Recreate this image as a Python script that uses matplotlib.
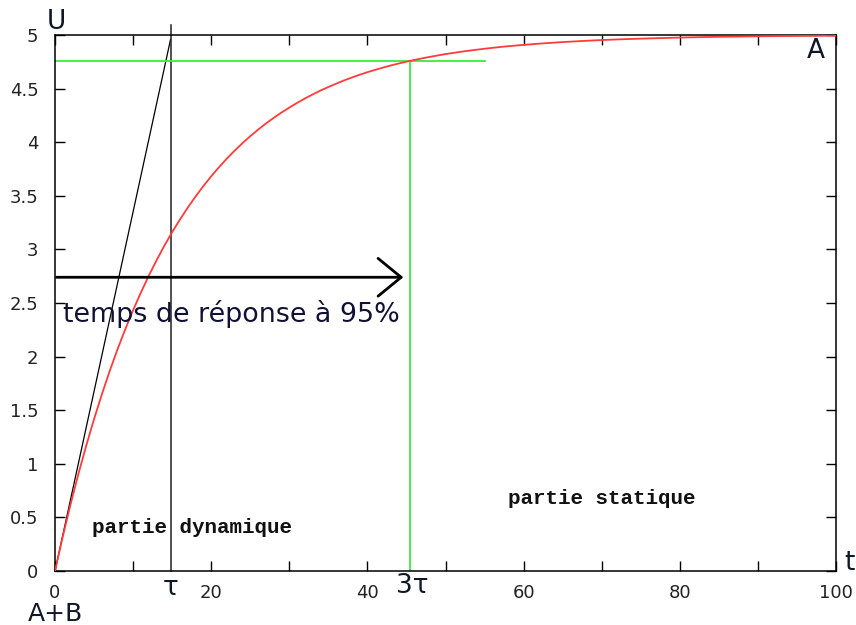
import matplotlib
matplotlib.use("Agg")
import matplotlib.pyplot as plt

# step response of a first-order system, sampled values of U(t)
t_values = [0, 1, 2, 3, 4, 5, 6, 7, 8, 9, 10, 11, 12, 13, 14, 15, 16, 17, 18,
            19, 20, 21, 22, 23, 24, 25, 26, 27, 28, 29, 30, 31, 32, 33, 34, 35,
            36, 37, 38, 39, 40, 41, 42, 43, 44, 45, 46, 47, 48, 49, 50, 52.5,
            55, 57.5, 60, 62.5, 65, 67.5, 70, 72.5, 75, 77.5, 80, 82.5, 85,
            87.5, 90, 92.5, 95, 97.5, 100]
u_values = [0.000, 0.322, 0.624, 0.906, 1.170, 1.417, 1.648, 1.865, 2.067,
            2.256, 2.433, 2.598, 2.753, 2.898, 3.034, 3.161, 3.279, 3.390,
            3.494, 3.591, 3.682, 3.767, 3.847, 3.921, 3.991, 4.056, 4.117,
            4.174, 4.227, 4.277, 4.323, 4.367, 4.408, 4.446, 4.482, 4.515,
            4.546, 4.576, 4.603, 4.629, 4.653, 4.675, 4.696, 4.716, 4.734,
            4.751, 4.767, 4.782, 4.796, 4.809, 4.822, 4.849, 4.872, 4.892,
            4.908, 4.922, 4.934, 4.944, 4.953, 4.960, 4.966, 4.971, 4.976,
            4.980, 4.983, 4.985, 4.988, 4.990, 4.991, 4.992, 4.994]

tau = 14.8            # time constant marker
t_95 = 45.5           # 3 tau marker
u_95 = 4.76           # 95 % of the final value
tangent_end = (14.8, 4.96)
arrow_y = 2.74

x_ticks = [0, 10, 20, 30, 40, 50, 60, 70, 80, 90, 100]
x_tick_labels = ["0", "", "20", "", "40", "", "60", "", "80", "", "100"]
y_ticks = [0, 0.5, 1, 1.5, 2, 2.5, 3, 3.5, 4, 4.5, 5]
y_tick_labels = ["0", "0.5", "1", "1.5", "2", "2.5", "3", "3.5", "4", "4.5", "5"]

fig = plt.figure(figsize=(8.56, 6.25), dpi=100)
ax = fig.add_axes([55 / 856, 54 / 625, 781 / 856, 536 / 625])
ax.set_xlim(0, 100)
ax.set_ylim(0, 5)

# response curve
ax.plot(t_values, u_values, color="#ff3b3b", lw=1.3, zorder=3,
        solid_joinstyle="round")

# tangent at the origin and tau marker
ax.plot([0, tangent_end[0]], [0, tangent_end[1]], color="black", lw=0.9)
ax.plot([tau, tau], [0, 5.09], color="#222222", lw=1.1, clip_on=False)

# 95 % guides
ax.plot([0, 55], [u_95, u_95], color="#3fe83f", lw=1.3)
ax.plot([t_95, t_95], [0, u_95], color="#3fe83f", lw=1.3)

# response-time arrow
ax.annotate("", xy=(44.6, arrow_y), xytext=(0.2, arrow_y),
            arrowprops=dict(arrowstyle="->,head_length=0.83,head_width=0.68",
                            lw=2.0, color="black", shrinkA=0, shrinkB=0,
                            mutation_scale=20))
ax.text(1.0, 2.40, "temps de réponse à 95%", fontsize=19.4, color="#111133",
        ha="left", va="center", family="DejaVu Sans")

mono = dict(family="Liberation Mono", fontweight="bold", fontsize=15,
            color="#111111")
ax.text(4.8, 0.41, "partie dynamique", ha="left", va="center", **mono)
ax.text(58.0, 0.68, "partie statique", ha="left", va="center", **mono)

big = dict(fontsize=19, color="#101828", family="DejaVu Sans")
fig.text(47 / 856, 1 - 22 / 625, "U", ha="left", va="center", **big)
fig.text(849 / 856, 1 - 563 / 625, "t", ha="center", va="center", **big)
fig.text(816 / 856, 1 - 51 / 625, "A", ha="center", va="center", **big)
fig.text(55 / 856, 4 / 625, "A+B", ha="center", va="baseline",
         fontsize=18, color="#101828", family="DejaVu Sans")
fig.text(171 / 856, 1 - 588 / 625, "τ", ha="center", va="center", **big)
fig.text(412 / 856, 1 - 586 / 625, "3τ", ha="center", va="center", **big)

ax.set_xticks(x_ticks)
ax.set_xticklabels(x_tick_labels)
ax.set_yticks(y_ticks)
ax.set_yticklabels(y_tick_labels)
ax.tick_params(direction="in", length=7.5, width=1.0, top=True, right=True,
               labelsize=13, labelcolor="#222222")
ax.tick_params(axis="x", pad=9)
ax.tick_params(axis="y", pad=12)
for s in ax.spines.values():
    s.set_linewidth(1.1)

fig.savefig("out.png", dpi=100)
